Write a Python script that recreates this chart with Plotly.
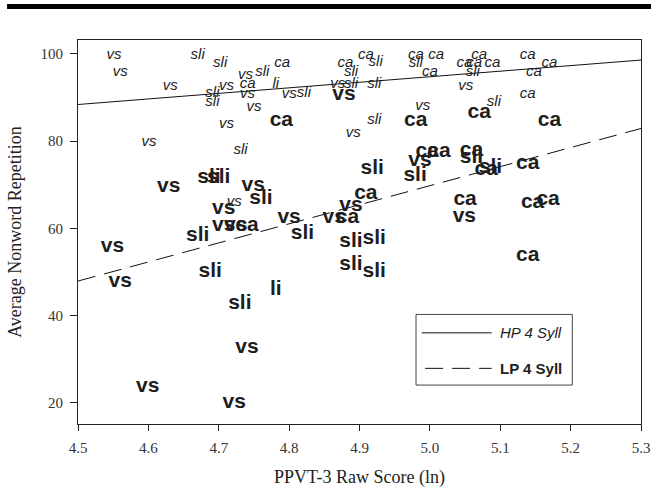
import plotly.graph_objects as go

# ---- data ----
hp_labels = ["vs", "vs", "vs", "sli", "sli", "vs", "sli", "ca", "vs", "ca",
             "sli", "sli", "vs", "li", "vs", "sli", "vs", "vs", "vs", "sli",
             "ca", "sli", "vs", "sli", "vs", "ca", "sli", "sli", "ca", "ca",
             "sli", "ca", "ca", "ca", "ca", "ca", "sli", "vs", "ca", "ca",
             "ca", "ca", "sli", "vs", "sli", "vs"]
hp_x = [4.551, 4.560, 4.631, 4.670, 4.702, 4.738, 4.762, 4.790, 4.711, 4.741,
        4.691, 4.691, 4.741, 4.781, 4.800, 4.821, 4.750, 4.711, 4.601, 4.731,
        4.880, 4.888, 4.869, 4.888, 4.891, 4.909, 4.923, 4.921, 4.980, 5.009,
        4.980, 5.000, 5.070, 5.049, 5.063, 5.089, 5.061, 5.051, 5.139, 5.170,
        5.148, 5.139, 5.091, 4.990, 4.921, 4.722]
hp_y = [99.8, 95.8, 92.7, 99.8, 97.8, 95.0, 95.8, 97.8, 92.7, 93.1,
        91.0, 88.9, 90.8, 93.1, 90.8, 91.0, 87.8, 83.8, 79.8, 78.0,
        97.8, 95.8, 93.1, 93.1, 81.7, 99.8, 98.1, 93.1, 99.8, 99.8,
        97.8, 95.8, 99.8, 97.8, 97.8, 97.8, 95.8, 92.7, 99.8, 97.8,
        95.8, 90.8, 88.9, 88.0, 84.9, 66.0]

lp_labels = ["vs", "ca", "ca", "ca", "ca", "sli", "sli", "vs", "vs", "sli",
             "vs", "vs", "vs", "ca", "sli", "vs", "sli", "vs", "vs", "sli",
             "vs", "ca", "vs", "sli", "sli", "sli", "vs", "ca", "ca", "sli",
             "ca", "sli", "ca", "sli", "ca", "ca", "ca", "vs", "ca", "ca",
             "sli", "sli", "ca", "li", "sli", "vs", "vs", "vs"]
lp_x = [4.878, 4.789, 4.980, 5.070, 5.170, 4.686, 4.700, 4.629, 4.749, 4.760,
        4.707, 4.707, 4.724, 4.740, 4.670, 4.800, 4.819, 4.549, 4.560, 4.688,
        4.864, 4.883, 4.888, 4.888, 4.888, 4.918, 4.986, 4.996, 5.013, 4.979,
        5.059, 5.059, 5.080, 5.086, 5.139, 4.909, 5.050, 5.049, 5.146, 5.168,
        4.921, 4.921, 5.139, 4.781, 4.730, 4.740, 4.599, 4.722]
lp_y = [90.7, 84.6, 84.7, 86.6, 84.7, 71.7, 71.7, 69.5, 69.8, 66.8,
        64.5, 60.5, 60.5, 60.5, 58.4, 62.4, 58.8, 55.7, 47.7, 50.0,
        62.4, 62.4, 65.1, 57.0, 51.7, 73.7, 75.6, 77.5, 77.5, 72.1,
        77.8, 76.3, 73.5, 73.8, 74.8, 67.9, 66.5, 62.6, 65.9, 66.5,
        57.6, 50.0, 53.8, 45.8, 42.8, 32.7, 23.7, 19.9]

# fitted regression lines (end points)
hp_fit_x = [4.5, 5.3]
hp_fit_y = [88.4, 98.6]
lp_fit_x = [4.5, 5.3]
lp_fit_y = [47.9, 82.9]

x_ticks = [4.5, 4.6, 4.7, 4.8, 4.9, 5.0, 5.1, 5.2, 5.3]
x_tick_text = ["4.5", "4.6", "4.7", "4.8", "4.9", "5.0", "5.1", "5.2", "5.3"]
y_ticks = [20, 40, 60, 80, 100]

TXT = "#1e1e1e"
SANS = "Liberation Sans, Arial, sans-serif"
SERIF = "Liberation Serif, Times New Roman, serif"

fig = go.Figure()
fig.add_trace(go.Scatter(x=hp_fit_x, y=hp_fit_y, mode="lines",
                         line=dict(color="#111111", width=1), showlegend=False))
fig.add_trace(go.Scatter(x=lp_fit_x, y=lp_fit_y, mode="lines",
                         line=dict(color="#111111", width=1, dash="18px,9px"),
                         showlegend=False))
fig.add_trace(go.Scatter(x=hp_x, y=hp_y, mode="text", text=hp_labels,
                         textposition="middle center",
                         textfont=dict(family=SANS, size=15, color=TXT, style="italic"),
                         showlegend=False))
fig.add_trace(go.Scatter(x=lp_x, y=lp_y, mode="text", text=lp_labels,
                         textposition="middle center",
                         textfont=dict(family=SANS, size=21, color=TXT, weight="bold"),
                         showlegend=False))

# top black rule
fig.add_shape(type="rect", xref="paper", yref="paper",
              x0=-0.126, x1=1.02, y0=1.081, y1=1.094,
              fillcolor="black", line=dict(width=0))

# hand-drawn legend box
fig.add_shape(type="rect", xref="paper", yref="paper",
              x0=0.6004, x1=0.878, y0=0.1014, y1=0.2853,
              line=dict(color="#444444", width=1), fillcolor="white")
fig.add_shape(type="line", xref="paper", yref="paper",
              x0=0.6105, x1=0.7348, y0=0.2374, y1=0.2374,
              line=dict(color="#111111", width=1))
fig.add_shape(type="line", xref="paper", yref="paper",
              x0=0.6165, x1=0.7348, y0=0.1449, y1=0.1449,
              line=dict(color="#111111", width=1, dash="18px,9px"))
fig.add_annotation(xref="paper", yref="paper", x=0.7466, y=0.2374,
                   xanchor="left", yanchor="middle", showarrow=False,
                   text="<i>HP 4 Syll</i>",
                   font=dict(family=SANS, size=15, color=TXT))
fig.add_annotation(xref="paper", yref="paper", x=0.7466, y=0.1449,
                   xanchor="left", yanchor="middle", showarrow=False,
                   text="<b>LP 4 Syll</b>",
                   font=dict(family=SANS, size=15, color=TXT))

fig.update_layout(
    width=651, height=488,
    margin=dict(l=78, r=10, t=40, b=64, autoexpand=False),
    paper_bgcolor="white", plot_bgcolor="white",
    font=dict(family=SERIF, color="#222222"),
)
fig.update_xaxes(range=[4.5, 5.3], tickvals=x_ticks, ticktext=x_tick_text,
                 ticks="outside", ticklen=6, tickcolor="#222222",
                 ticklabelstandoff=4, automargin=False,
                 showline=True, linecolor="#222222", linewidth=1, mirror=True,
                 showgrid=False, zeroline=False,
                 tickfont=dict(family=SERIF, size=15, color="#333333"),
                 title=dict(text="PPVT-3 Raw Score (ln)", standoff=19,
                            font=dict(family=SERIF, size=18, color="#222222")))
fig.update_yaxes(range=[15.1, 103.2], tickvals=y_ticks,
                 ticks="outside", ticklen=7, tickcolor="#222222",
                 ticklabelstandoff=4, automargin=False,
                 showline=True, linecolor="#222222", linewidth=1, mirror=True,
                 showgrid=False, zeroline=False,
                 tickfont=dict(family=SERIF, size=15, color="#333333"),
                 title=dict(text="Average Nonword Repetition", standoff=14,
                            font=dict(family=SERIF, size=18, color="#222222")))

fig.write_html("out.html", config={"displayModeBar": False},
               post_script="document.body.style.margin='0px';")
